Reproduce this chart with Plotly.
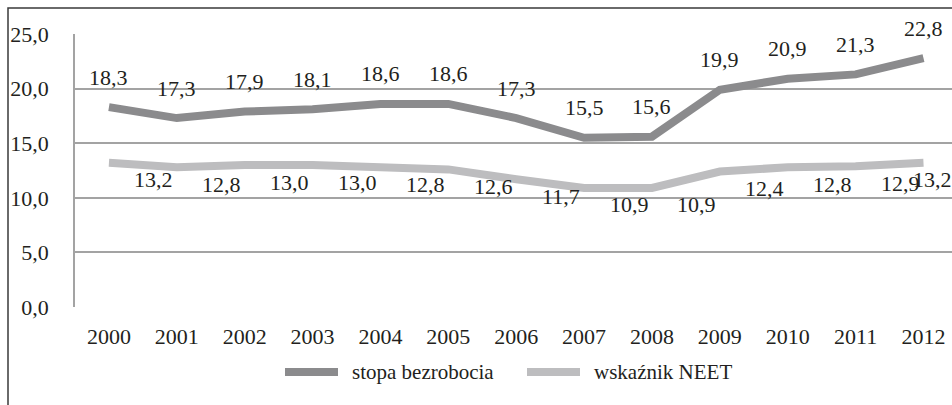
import plotly.graph_objects as go

years = [2000, 2001, 2002, 2003, 2004, 2005, 2006, 2007, 2008, 2009, 2010, 2011, 2012]
stopa_bezrobocia = [18.3, 17.3, 17.9, 18.1, 18.6, 18.6, 17.3, 15.5, 15.6, 19.9, 20.9, 21.3, 22.8]
wskaznik_neet = [13.2, 12.8, 13.0, 13.0, 12.8, 12.6, 11.7, 10.9, 10.9, 12.4, 12.8, 12.9, 13.2]
series_names = ["stopa bezrobocia", "wskaźnik NEET"]
y_ticks = [0, 5, 10, 15, 20, 25]

FONT = "Times New Roman, Liberation Serif, serif"
TXT = "#231f20"
DARK = "#8b8b8d"
LIGHT = "#bdbdbf"
GRID = "#a3a3a3"

W, H = 952, 405
L, R, T, B = 75, 0, 34, 98
plot_w = W - L - R
plot_h = H - T - B


def fmt(v):
    return f"{v:.1f}".replace(".", ",")


fig = go.Figure()
fig.add_trace(go.Scatter(x=years, y=stopa_bezrobocia, mode="lines", name=series_names[0],
                         line=dict(color=DARK, width=8), showlegend=False))
fig.add_trace(go.Scatter(x=years, y=wskaznik_neet, mode="lines", name=series_names[1],
                         line=dict(color=LIGHT, width=8), showlegend=False))

annotations = []
for yr, v in zip(years, stopa_bezrobocia):
    annotations.append(dict(x=yr, y=v, xref="x", yref="y", text=fmt(v), showarrow=False,
                            yshift=30, font=dict(family=FONT, size=22, color=TXT)))
n = len(years)
for i, (yr, v) in enumerate(zip(years, wskaznik_neet)):
    annotations.append(dict(x=yr, y=v, xref="x", yref="y", text=fmt(v), showarrow=False,
                            xshift=45 if i < n - 1 else 9, yshift=-17,
                            font=dict(family=FONT, size=22, color=TXT)))

# custom legend
def px_x(p):
    return (p - L) / plot_w


def px_y(p):
    return (H - B - p) / plot_h


leg_y = 372
shapes = []
leg_items = [(285, 338, 350, DARK), (527, 580, 592, LIGHT)]
for (x0, x1, tx, col), name in zip(leg_items, series_names):
    shapes.append(dict(type="line", xref="paper", yref="paper", x0=px_x(x0), x1=px_x(x1),
                       y0=px_y(leg_y), y1=px_y(leg_y), line=dict(color=col, width=8)))
    annotations.append(dict(x=px_x(tx), y=px_y(leg_y), xref="paper", yref="paper", text=name,
                            showarrow=False, xanchor="left", yanchor="middle",
                            font=dict(family=FONT, size=21, color=TXT)))

# outer frame
shapes.append(dict(type="rect", xref="paper", yref="paper", x0=px_x(8), x1=px_x(1200),
                   y0=px_y(600), y1=px_y(8), line=dict(color="#3a3a3a", width=1.5),
                   fillcolor="rgba(0,0,0,0)", layer="below"))

fig.update_layout(
    width=W, height=H,
    margin=dict(l=L, r=R, t=T, b=B, pad=0),
    paper_bgcolor="white", plot_bgcolor="white",
    font=dict(family=FONT, size=22, color=TXT),
    annotations=annotations, shapes=shapes,
    showlegend=False,
)
fig.update_xaxes(range=[1999.5, 2012.42], tickvals=years, ticktext=[str(y) for y in years],
                 showgrid=False, zeroline=False, showline=False, ticks="",
                 ticklabelstandoff=14, tickfont=dict(family=FONT, size=22, color=TXT))
fig.update_yaxes(range=[0, 25], tickvals=y_ticks, ticktext=[fmt(t) for t in y_ticks],
                 showgrid=True, gridcolor=GRID, gridwidth=1.5, zeroline=False,
                 showline=True, linecolor=GRID, linewidth=1.5, ticks="",
                 ticklabelstandoff=20, tickfont=dict(family=FONT, size=22, color=TXT))

fig.write_html("out.html", config={"displayModeBar": False},
               post_script="document.body.style.margin='0';document.body.style.overflow='hidden';")
